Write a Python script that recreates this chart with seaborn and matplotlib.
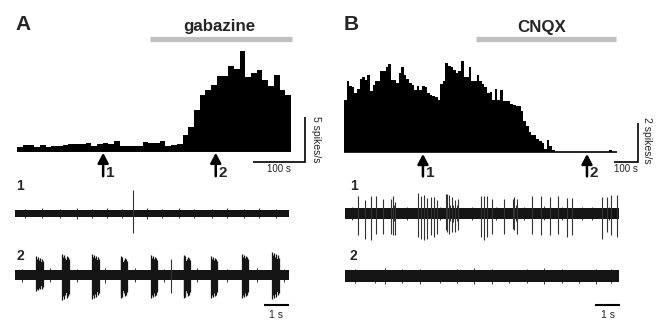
import numpy as np
import pandas as pd
import matplotlib
matplotlib.use("Agg")
import matplotlib.pyplot as plt
import seaborn as sns

# population firing rate histograms (spikes/s per bin)
BIN_A = 11  # s
rate_a = [0.44, 0.70, 0.70, 0.44, 0.63, 0.44, 0.56, 0.56, 0.70, 0.81,
          0.74, 0.74, 0.93, 0.56, 0.81, 0.93, 0.81, 1.11, 0.56, 0.52,
          0.59, 0.59, 1.04, 0.89, 0.89, 1.11, 0.56, 0.70, 0.81, 1.74,
          2.67, 4.52, 6.19, 6.74, 7.30, 8.30, 8.30, 9.41, 9.15, 11.11,
          8.22, 8.67, 8.96, 7.85, 7.19, 8.41, 6.81, 6.19]

BIN_B = 11  # s
rate_b = [2.65, 3.66, 3.37, 3.33, 3.03, 3.25, 3.76, 3.83, 3.68, 3.93,
          3.11, 3.42, 3.66, 3.66, 4.17, 4.17, 4.34, 4.51, 3.71, 3.71,
          3.54, 4.05, 4.34, 3.97, 3.76, 3.54, 3.45, 3.20, 3.37, 3.20,
          3.40, 3.33, 3.03, 2.94, 2.85, 2.80, 2.65, 3.49, 3.66, 4.56,
          4.39, 4.36, 4.22, 4.05, 4.17, 4.65, 3.83, 3.83, 4.34, 3.62,
          3.66, 3.93, 3.66, 3.49, 3.32, 3.03, 3.08, 2.68, 3.25, 2.68,
          3.20, 2.60, 2.60, 2.63, 2.46, 2.39, 2.34, 2.34, 2.09, 1.57,
          1.32, 1.03, 0.89, 0.89, 0.68, 0.58, 0.46, 0.17, 0.63, 0.29,
          0.12] + [0] * 21 + [0.08] + [0] * 2

# drug application windows and sample points (s)
gabazine_on, gabazine_off = 256, 530
cnqx_on, cnqx_off = 558, 1151
arrows_a = [166, 383]
arrows_b = [334, 1028]

# example extracellular traces, 11 s each (amplitudes in a.u.)
TRACE_LEN = 11.0
a1_spike_t = [4.74]
a1_spike_up = [23]
a1_spike_dn = [20]
a1_noise_t = [0.4, 1.1, 1.8, 2.5, 3.1, 3.7, 4.3, 5.3, 5.9, 6.6, 7.2, 7.9, 8.5, 9.2, 9.8, 10.5]
a1_noise_h = [4.5, 5, 4.5, 5.5, 4.5, 5, 4.5, 5.5, 4.5, 5, 4.5, 4.5, 5, 4.5, 5, 4.5]

a2_burst_t = [0.85, 1.90, 3.10, 4.24, 5.46, 6.77, 7.87, 9.11, 10.33]
a2_burst_up = [19, 21, 21, 19, 20, 20, 19, 21, 23]
a2_burst_dn = [16, 25, 24, 23, 23, 23, 23, 23, 24]
a2_spike_t = [6.25]
a2_spike_up = [16]
a2_spike_dn = [18]
a2_noise_t = [0.3, 1.4, 2.5, 3.6, 4.8, 6.0, 7.3, 8.5, 9.7, 10.8]
a2_noise_h = [6.5, 7, 6.5, 7.5, 7, 6.5, 7, 6.5, 7, 6.5]

b1_spike_t = [0.54, 0.80, 1.03, 1.23, 1.54, 1.85, 1.91, 2.01, 2.95, 3.04,
              3.17, 3.31, 3.44, 3.57, 3.71, 4.04, 4.11, 4.18, 4.28, 4.42,
              4.55, 5.45, 5.60, 5.72, 5.92, 6.39, 6.73, 6.80, 6.89, 7.52,
              7.86, 8.23, 8.57, 8.93, 9.13, 10.31, 10.53, 10.68, 10.91]
b1_spike_up = [16.7, 12.7, 16.7, 16.7, 14.3, 14.3, 16.7, 11.0, 20.0, 16.7,
               17.7, 15.3, 16.0, 16.0, 13.3, 19.3, 18.7, 17.7, 16.0, 12.7,
               14.3, 16.7, 16.7, 16.7, 14.3, 14.3, 14.3, 16.0, 14.3, 16.7,
               16.7, 16.0, 16.7, 15.3, 15.3, 16.0, 16.0, 17.7, 17.7]
b1_spike_dn = [22.3, 25.7, 27.3, 20.7, 20.7, 20.7, 22.3, 22.3, 24.0, 25.7,
               27.3, 25.7, 22.3, 24.0, 20.7, 17.3, 19.0, 20.7, 19.0, 19.0,
               17.3, 24.0, 27.3, 24.0, 20.7, 20.7, 15.7, 17.3, 20.7, 20.7,
               22.3, 22.3, 20.7, 24.0, 22.3, 25.7, 19.0, 22.3, 24.0]
b1_noise_t = [0.3, 1.85, 1.95, 2.5, 3.8, 4.2, 4.35, 4.5, 5.1, 6.05, 6.75, 6.85, 7.2, 8.0, 8.7, 9.5, 9.9, 10.6]
b1_noise_h = [6.5, 8, 8, 6.5, 6.5, 8, 8.5, 8, 6.5, 6.5, 8, 8, 6.5, 7, 6.5, 6.5, 6.5, 6.5]

b2_noise_t = [0.4, 1.2, 1.6, 2.3, 3.0, 3.8, 4.5, 5.2, 5.9, 6.6, 7.3, 8.0, 8.7, 9.4, 10.1, 10.7]
b2_noise_h = [7, 6.5, 8, 7, 7.5, 6.5, 7, 8, 7.5, 6.5, 7, 8, 7, 6.5, 7.5, 7]

sns.set_style("white")
plt.rcParams['font.family'] = ['Liberation Sans', 'DejaVu Sans']

W, H = 660, 322
fig = plt.figure(figsize=(W / 100, H / 100), dpi=100)


def px_axes(x0, y0, x1, y1):
    ax = fig.add_axes([x0 / W, 1 - y1 / H, (x1 - x0) / W, (y1 - y0) / H])
    ax.axis('off')
    return ax


def fig_text(x, y, s, **kw):
    fig.text(x / W, 1 - y / H, s, **kw)


def draw_hist(ax, rates, binw, lw_base=1.4):
    n = len(rates)
    df = pd.DataFrame({'t': np.arange(n) * binw + binw / 2, 'rate': rates})
    sns.histplot(data=df, x='t', weights='rate', binwidth=binw, binrange=(0, n * binw),
                 element='step', fill=True, color='black', alpha=1, linewidth=0, ax=ax)
    ax.plot([0, n * binw], [0, 0], color='black', lw=lw_base, solid_capstyle='butt')
    ax.axis('off')


def draw_arrows(ax, times, y_tip, y_tail, dx, y_lab):
    for i, t in enumerate(times):
        ax.annotate('', xy=(t, y_tip), xytext=(t, y_tail),
                    arrowprops=dict(arrowstyle='-|>,head_width=0.32,head_length=0.6',
                                    lw=1.8, color='black', shrinkA=0, shrinkB=0),
                    annotation_clip=False)
        ax.text(t + dx, y_lab, str(i + 1), fontsize=11, fontweight='bold',
                ha='left', va='baseline', clip_on=False)


def scale_bar(ax, x_end, y0, dx, dy, lw=1.2):
    ax.plot([x_end - dx, x_end, x_end], [y0, y0, y0 + dy], color='black',
            lw=lw, solid_capstyle='butt', solid_joinstyle='miter', clip_on=False)


# ---------------- panel A histogram ----------------
sA = 528 / 274  # s per pixel
axA = px_axes(17, 30, 330, 175)
draw_hist(axA, rate_a, BIN_A)
axA.set_xlim(0, 313 * sA)
axA.set_ylim(-24 / 9, 121 / 9)
axA.plot([gabazine_on, gabazine_off], [112 / 9] * 2, color='#c0c0c0', lw=3.8,
         solid_capstyle='butt', clip_on=False)
draw_arrows(axA, arrows_a, -0.2, -2.8, 3 * sA, -2.9)
scale_bar(axA, 555, -1.22, 100, 5)
axA.text(505, -2.0, '100 s', fontsize=7, ha='center', va='center')
axA.text(576, 1.25, '5 spikes/s', fontsize=7.5, rotation=270, ha='center', va='center')

# ---------------- panel B histogram ----------------
sB = 11 / 2.6
axB = px_axes(344, 30, 660, 175)
draw_hist(axB, rate_b, BIN_B, lw_base=1.2)
axB.set_xlim(0, 316 * sB)
axB.set_ylim(-23 / 19.5, 122 / 19.5)
axB.plot([cnqx_on, cnqx_off], [113 / 19.5] * 2, color='#c0c0c0', lw=3.8,
         solid_capstyle='butt', clip_on=False)
draw_arrows(axB, arrows_b, -0.1, -1.25, 3 * sB, -1.28)
scale_bar(axB, 1244, -0.51, 100, 2)
axB.text(1194, -0.87, '100 s', fontsize=7, ha='center', va='center')
axB.text(1282, 0.58, '2 spikes/s', fontsize=7.5, rotation=270, ha='center', va='center')

# ---------------- titles ----------------
fig_text(15, 30, 'A', fontsize=15, fontweight='bold', va='baseline')
fig_text(344, 30, 'B', fontsize=15, fontweight='bold', va='baseline')
fig_text(219, 31, 'gabazine', fontsize=12.2, fontweight='bold', ha='center', va='baseline')
fig_text(542, 32, 'CNQX', fontsize=12.2, fontweight='bold', ha='center', va='baseline')

# ---------------- traces ----------------
TRACE_COL = '#151515'


def draw_trace(ax, y0, half, spikes=None, bursts=None, noise=None):
    ax.fill_between([0, TRACE_LEN], y0 - half, y0 + half, color=TRACE_COL, lw=0)
    if noise is not None:
        nt, nh = noise
        ax.vlines(nt, [y0 - h for h in nh], [y0 + h for h in nh], color=TRACE_COL, lw=0.6)
    if bursts is not None:
        bt, bu, bd = bursts
        for t, u, d in zip(bt, bu, bd):
            ax.fill_between([t, t + 0.26], y0 - 0.7 * d, y0 + 0.7 * u, color=TRACE_COL, lw=0)
            offs = [0.0, 0.03, 0.07, 0.12, 0.17, 0.22, 0.26]
            fac = [1.0, 0.85, 0.95, 0.8, 0.9, 0.85, 0.75]
            ax.vlines([t + o for o in offs], [y0 - d * f for f in fac],
                      [y0 + u * f for f in fac], color=TRACE_COL, lw=0.9)
    if spikes is not None:
        st, su, sd = spikes
        ax.vlines(st, [y0 - d for d in sd], [y0 + u for u in su], color='#333333', lw=0.8)


axTA = px_axes(10, 178, 330, 322)
axTA.set_xlim(-5 / 24.9, 315 / 24.9)
axTA.set_ylim(-109, 35)
draw_trace(axTA, 0, 3.5, spikes=(a1_spike_t, a1_spike_up, a1_spike_dn),
           noise=(a1_noise_t, a1_noise_h))
draw_trace(axTA, -62, 5, spikes=(a2_spike_t, a2_spike_up, a2_spike_dn),
           bursts=(a2_burst_t, a2_burst_up, a2_burst_dn), noise=(a2_noise_t, a2_noise_h))
axTA.text(0.05, 27, '1', fontsize=10, fontweight='bold', va='center')
axTA.text(0.05, -43, '2', fontsize=10, fontweight='bold', va='center')
axTA.plot([10.0, 11.0], [-92, -92], color='black', lw=1.5, solid_capstyle='butt')
axTA.text(10.5, -102, '1 s', fontsize=7.5, ha='center', va='center')

axTB = px_axes(340, 178, 660, 322)
axTB.set_xlim(-5 / 24.9, 315 / 24.9)
axTB.set_ylim(-109, 35)
draw_trace(axTB, 0, 5.5, spikes=(b1_spike_t, b1_spike_up, b1_spike_dn),
           noise=(b1_noise_t, b1_noise_h))
draw_trace(axTB, -63, 6, noise=(b2_noise_t, b2_noise_h))
axTB.text(0.2, 27, '1', fontsize=10, fontweight='bold', va='center')
axTB.text(0.2, -43, '2', fontsize=10, fontweight='bold', va='center')
axTB.plot([10.05, 11.05], [-92, -92], color='black', lw=1.5, solid_capstyle='butt')
axTB.text(10.55, -102, '1 s', fontsize=7.5, ha='center', va='center')

fig.savefig('out.png', dpi=100, facecolor='white')
